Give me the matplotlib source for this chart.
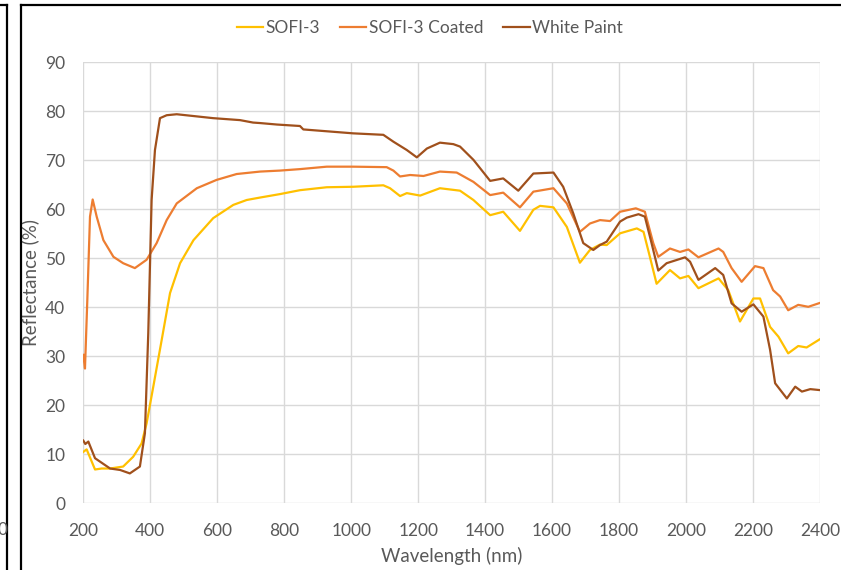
import matplotlib.pyplot as plt
from matplotlib.lines import Line2D

plt.rcParams['font.family'] = ['Lato', 'DejaVu Sans']

# SOFI-3
sofi_wl = [200, 210, 235, 255, 280, 319, 349, 374, 389, 409, 434, 459, 489, 529, 588, 648, 688, 728,
           787, 847, 927, 1006, 1096, 1116, 1146, 1166, 1206, 1265, 1325, 1365, 1415, 1454, 1504, 1544,
           1564, 1604, 1644, 1683, 1713, 1743, 1763, 1803, 1853, 1873, 1892, 1912, 1952, 1982, 2007,
           2037, 2097, 2126, 2161, 2201, 2221, 2251, 2276, 2305, 2335, 2360, 2400]
sofi_r = [10.5, 11.0, 6.9, 7.1, 7.1, 7.5, 9.5, 12.2, 16.3, 23.8, 33.3, 42.9, 49.0, 53.7, 58.2, 60.9, 61.9, 62.4,
          63.1, 63.9, 64.5, 64.6, 64.9, 64.3, 62.7, 63.3, 62.8, 64.3, 63.8, 61.9, 58.8, 59.5, 55.6, 59.9,
          60.7, 60.4, 56.4, 49.1, 51.7, 52.8, 52.7, 55.1, 56.1, 55.4, 50.3, 44.8, 47.6, 45.9, 46.4,
          43.9, 45.9, 43.5, 37.1, 41.8, 41.8, 36.0, 34.0, 30.6, 32.1, 31.8, 33.5]

# SOFI-3 Coated
coated_wl = [200, 205, 212, 220, 228, 240, 260, 290, 319, 354, 389, 419, 449, 479, 539, 598, 658, 728,
             787, 847, 927, 1006, 1106, 1126, 1146, 1176, 1216, 1265, 1315, 1365, 1415, 1454, 1504, 1544,
             1604, 1644, 1683, 1713, 1743, 1773, 1803, 1850, 1877, 1902, 1917, 1952, 1982, 2007, 2037,
             2097, 2111, 2136, 2166, 2206, 2231, 2260, 2281, 2305, 2335, 2365, 2400]
coated_r = [30.3, 27.5, 41.5, 58.5, 62.0, 58.5, 53.7, 50.3, 49.0, 48.0, 49.7, 53.1, 57.8, 61.2, 64.3, 66.0, 67.2, 67.7,
            67.9, 68.2, 68.7, 68.7, 68.6, 67.9, 66.7, 67.0, 66.8, 67.7, 67.5, 65.6, 62.9, 63.4, 60.4, 63.6,
            64.3, 61.2, 55.4, 57.1, 57.8, 57.6, 59.5, 60.2, 59.5, 53.1, 50.3, 52.0, 51.3, 51.8, 50.2,
            52.0, 51.3, 48.0, 45.2, 48.4, 48.0, 43.5, 42.2, 39.4, 40.5, 40.1, 40.9]

# White Paint
paint_wl = [200, 206, 215, 235, 280, 310, 339, 369, 384, 394, 404, 414, 429, 449, 479, 588, 668, 707, 728,
            778, 847, 857, 1006, 1096, 1126, 1166, 1196, 1226, 1265, 1305, 1325, 1365, 1415, 1454, 1499,
            1544, 1604, 1633, 1663, 1693, 1723, 1743, 1763, 1803, 1823, 1858, 1877, 1897, 1917, 1942,
            1997, 2012, 2037, 2087, 2111, 2136, 2166, 2201, 2231, 2251, 2266, 2301, 2326, 2346, 2371, 2400]
paint_r = [12.8, 12.1, 12.6, 9.2, 7.1, 6.8, 6.1, 7.5, 14.3, 34.7, 61.9, 72.1, 78.6, 79.2, 79.4, 78.6, 78.2, 77.7, 77.6,
           77.3, 77.0, 76.3, 75.5, 75.2, 73.8, 72.1, 70.6, 72.4, 73.6, 73.3, 72.8, 70.1, 65.8, 66.3, 63.8,
           67.3, 67.5, 64.6, 59.2, 53.1, 51.7, 52.7, 53.4, 57.5, 58.3, 59.0, 58.5, 53.1, 47.5, 49.0,
           50.2, 49.3, 45.6, 48.0, 46.6, 40.8, 39.1, 40.6, 38.1, 31.3, 24.5, 21.4, 23.8, 22.8, 23.3, 23.1]

x_ticks = list(range(200, 2401, 200))
y_ticks = list(range(0, 91, 10))

fig = plt.figure(figsize=(8.41, 5.70), dpi=100)
ax = fig.add_axes([83.3 / 841, 1 - 503.3 / 570, (820 - 83.3) / 841, (503.3 - 62.3) / 570])

ax.plot(sofi_wl, sofi_r, color='#FFC000', lw=1.6, label='SOFI-3')
ax.plot(coated_wl, coated_r, color='#ED7D31', lw=1.6, label='SOFI-3 Coated')
ax.plot(paint_wl, paint_r, color='#A0501C', lw=1.6, label='White Paint')

ax.set_xlim(200, 2400)
ax.set_ylim(0, 90)
ax.set_xticks(x_ticks)
ax.set_yticks(y_ticks)
ax.grid(True, color='#D9D9D9', lw=1)
ax.set_axisbelow(True)
for s in ax.spines.values():
    s.set_visible(False)
ax.tick_params(length=0, labelsize=12.5, labelcolor='#595959')
ax.tick_params(axis='x', pad=14)
ax.tick_params(axis='y', pad=13)
ax.set_xlabel('Wavelength (nm)', fontsize=13.5, color='#595959', labelpad=6)
ax.set_ylabel('Reflectance (%)', fontsize=13.5, color='#595959', labelpad=4)

ax.legend(loc='center', bbox_to_anchor=(430 / 841, 1 - 28 / 570), bbox_transform=fig.transFigure,
          ncol=3, frameon=False, fontsize=12.5, labelcolor='#595959', handlelength=1.5,
          handletextpad=0.15, columnspacing=1.15)

# frame of this chart and the edge of the neighbouring one
def px_line(x0, y0, x1, y1):
    fig.add_artist(Line2D([x0 / 841, x1 / 841], [1 - y0 / 570, 1 - y1 / 570],
                          transform=fig.transFigure, color='black', lw=1.6))

px_line(21, 5, 841, 5)
px_line(21, 5, 21, 570)
px_line(0, 5, 6.5, 5)
px_line(6.5, 5, 6.5, 570)
fig.text(-3 / 841, 1 - 530 / 570, '0', fontsize=12.5, color='#595959', va='center')

fig.savefig('out.png', dpi=100)
